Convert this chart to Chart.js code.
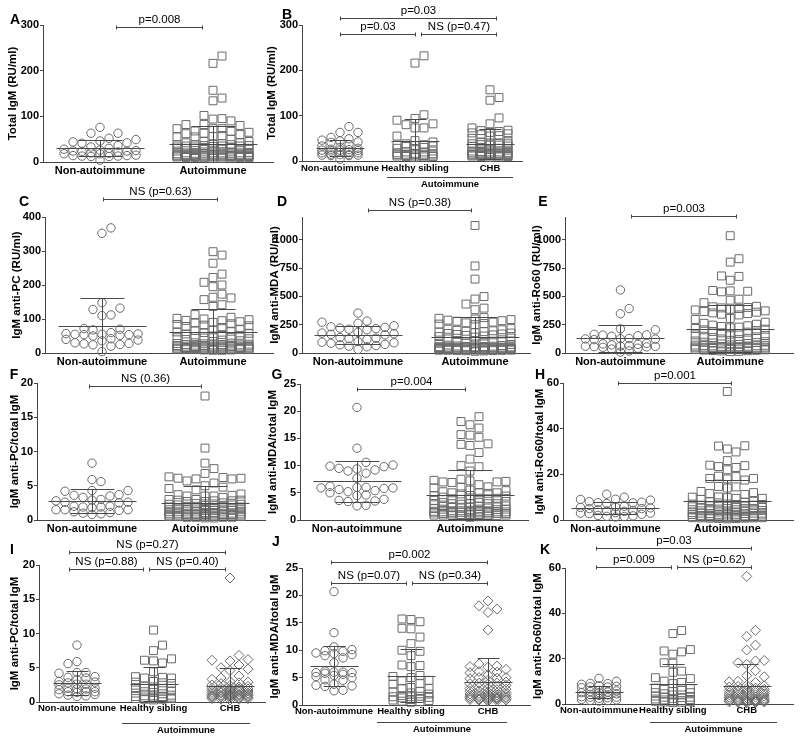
<!DOCTYPE html>
<html>
<head>
<meta charset="utf-8">
<script src="https://cdn.jsdelivr.net/npm/chart.js@4.4.1/dist/chart.umd.min.js"></script>
<style>
  html, body { margin: 0; padding: 0; background: #fff; }
  #wrap { position: relative; width: 800px; height: 741px; overflow: hidden; }
  #wrap canvas { position: absolute; left: 0; top: 0; }
</style>
</head>
<body>
<div id="wrap"></div>
<script>
// ---- categories / tick labels ----
const catsTwo = ["Non-autoimmune", "Autoimmune"];
const catsThree = ["Non-autoimmune", "Healthy sibling", "CHB"];
const autoLabel = "Autoimmune";

const ticksTotal = [0, 100, 200, 300];
const ticksPc = [0, 100, 200, 300, 400];
const ticksMda = [0, 250, 500, 750, 1000];
const ticksRo = [0, 250, 500, 750, 1000];
const ticksPcRatio = [0, 5, 10, 15, 20];
const ticksMdaRatio = [0, 5, 10, 15, 20, 25];
const ticksRoRatio = [0, 20, 40, 60];

// ---- p values ----
const pA = ["p=0.008"];
const pB = ["p=0.03", "p=0.03", "NS (p=0.47)"];
const pC = ["NS (p=0.63)"];
const pD = ["NS (p=0.38)"];
const pE = ["p=0.003"];
const pF = ["NS (0.36)"];
const pG = ["p=0.004"];
const pH = ["p=0.001"];
const pI = ["NS (p=0.27)", "NS (p=0.88)", "NS (p=0.40)"];
const pJ = ["p=0.002", "NS (p=0.07)", "NS (p=0.34)"];
const pK = ["p=0.03", "p=0.009", "NS (p=0.62)"];

// ---- values ----
// total IgM (RU/ml)
const totalNon = [76, 63, 63, 52, 49, 46, 44, 42, 41, 36, 33, 30, 28, 26, 25, 24, 24, 23, 22, 20, 19, 18, 18, 15, 14, 14, 13, 13, 12, 12, 4];
const totalSib = [232, 216, 102, 94, 90, 82, 80, 73, 73, 55, 45, 42, 38, 36, 35, 34, 33, 32, 30, 28, 25, 22, 20, 20, 18, 17, 16, 15, 15, 14, 14, 13, 12, 12, 11, 11, 10, 10, 9, 8];
const totalChb = [157, 140, 134, 95, 82, 73, 68, 67, 65, 63, 62, 60, 58, 56, 55, 50, 45, 42, 40, 40, 38, 38, 36, 35, 35, 33, 32, 30, 28, 26, 24, 22, 21, 20, 20, 19, 18, 18, 17, 17, 16, 16, 15, 15, 15, 14, 14, 14, 13, 13, 13, 12, 12, 12, 11, 11, 10, 10, 9, 8];

// IgM anti-PC (RU/ml)
const pcNon = [368, 352, 148, 132, 128, 112, 110, 72, 70, 68, 60, 57, 56, 55, 55, 54, 54, 52, 50, 42, 40, 38, 36, 30, 28, 27, 25, 24, 20, 4];
const pcAuto = [298, 288, 264, 232, 222, 208, 200, 195, 173, 164, 162, 157, 142, 137, 113,
  105, 102, 100, 98, 96, 95, 92, 90, 88, 86, 84, 82, 80, 78, 75,
  70, 68, 66, 64, 62, 60, 58, 56, 54, 52,
  50, 48, 46, 45, 44, 42, 40, 38, 36, 34,
  30, 29, 28, 27, 26, 25, 25, 24, 24, 23, 23, 22, 22, 21, 21, 20, 20, 20, 19, 19,
  18, 18, 18, 17, 17, 16, 16, 16, 15, 15, 15, 14, 14, 14, 13, 13, 13, 12, 12, 12,
  11, 11, 11, 10, 10, 10, 9, 9, 8, 8];

// IgM anti-MDA (RU/ml)
const mdaNon = [352, 282, 272, 262, 240, 232, 226, 220, 215, 210, 205, 182, 176, 170, 165, 160, 136, 130, 126, 120, 100, 95, 90, 86, 76, 72, 66, 60, 55, 32];
const mdaAuto = [1125, 768, 652, 498, 476, 432, 396, 382,
  312, 306, 300, 295, 290, 285, 280, 272, 266, 260, 255, 250,
  215, 210, 205, 200, 196, 192, 188, 184, 180, 176, 172, 168, 164, 160, 155, 150, 145, 140,
  132, 124, 116, 110, 104, 98, 92, 86, 80, 75, 70, 66, 62,
  60, 58, 57, 56, 55, 54, 53, 52, 51, 50, 50, 49, 48, 48, 47, 46, 45, 45, 44, 43,
  42, 41, 40, 40, 39, 38, 37, 36, 35, 35, 34, 33, 32, 31, 30, 30, 29, 28, 27, 26,
  25, 25, 24, 23, 22, 21, 20, 18, 15];

// IgM anti-Ro60 (RU/ml)
const roNon = [556, 392, 346, 213, 205, 165, 160, 158, 152, 148, 128, 126, 124, 122, 118, 85, 80, 76, 72, 66, 62, 60, 58, 56, 54, 50, 42, 35, 18, 8];
const roAuto = [1035, 832, 802, 680, 676, 642, 552, 548, 545, 540, 475, 466, 444,
  412, 408, 402, 398, 392, 386, 380, 372, 366, 360, 354, 348, 342, 336,
  305, 296, 272, 262, 254, 246, 240, 234, 228, 222, 216, 210, 204, 198,
  190, 184, 178, 172, 166, 160, 154, 148, 142, 136, 130, 124, 118, 112, 106, 100,
  96, 92, 88, 84, 80, 76, 72, 70, 68, 66, 64, 62, 60, 58, 56, 55, 54, 52, 51, 50,
  49, 48, 47, 46, 45, 44, 43, 42, 41, 40, 38, 36, 34, 32, 30, 28, 26, 24, 22, 20,
  18, 15, 12];

// IgM anti-PC / total IgM
const pcRatioNon = [8.3, 5.9, 5.6, 4.3, 4.3, 4.2, 3.7, 3.6, 3.5, 3.3, 3.0, 2.9, 2.8, 2.6, 2.6, 2.5, 2.0, 2.0, 1.9, 1.9, 1.8, 1.5, 1.5, 1.5, 1.4, 1.2, 1.1, 1.0, 0.9, 0.8];
const pcRatioSib = [10.5, 8.3, 7.5, 6.3, 6.1, 6.0, 5.7, 4.4, 3.7, 3.6, 3.5, 3.5, 3.0, 2.9, 2.8, 2.7, 2.3, 2.2, 2.1, 2.0, 1.6, 1.5, 1.4, 1.3, 1.2, 1.0, 0.9, 0.9, 0.8, 0.8, 0.7, 0.7, 0.6, 0.6, 0.5, 0.5, 0.5, 0.4, 0.4, 0.3];
const pcRatioChb = [18.1, 6.8, 6.2, 6.1, 6.0, 5.4, 5.0, 4.8, 4.6, 3.8, 3.5, 3.3, 3.0, 2.9, 2.8, 2.7, 2.5, 2.4, 2.3, 2.2, 2.1, 2.0, 2.0, 1.9, 1.9, 1.8, 1.8, 1.7, 1.7, 1.6, 1.6, 1.5, 1.5, 1.4, 1.4, 1.3, 1.3, 1.2, 1.2, 1.1, 1.1, 1.0, 1.0, 1.0, 0.9, 0.9, 0.9, 0.8, 0.8, 0.8, 0.7, 0.7, 0.7, 0.6, 0.6, 0.5, 0.5, 0.4, 0.4, 0.3];

// IgM anti-MDA / total IgM
const mdaRatioNon = [20.7, 13.2, 10.6, 10.1, 9.9, 9.8, 9.5, 9.4, 9.2, 9.0, 8.6, 7.7, 6.2, 6.0, 6.0, 5.9, 5.9, 5.8, 5.6, 5.4, 5.2, 5.0, 4.6, 4.5, 3.8, 3.6, 3.5, 3.4, 2.7, 2.6];
const mdaRatioSib = [15.7, 15.6, 15.2, 14.0, 13.9, 12.4, 11.2, 10.0, 9.8, 9.0, 7.3, 7.2, 7.0, 5.4, 5.2, 5.0, 4.5, 4.4, 3.9, 3.8, 3.2, 3.0, 3.0, 2.5, 2.4, 2.2, 2.0, 1.7, 1.6, 1.5, 1.5, 1.4, 1.3, 1.2, 1.0, 0.9, 0.8, 0.7, 0.6, 0.5];
const mdaRatioChb = [19.0, 18.1, 17.5, 16.9, 13.7, 7.5, 7.1, 7.0, 6.9, 6.5, 6.1, 6.0, 5.9, 5.5, 5.0, 5.0, 4.9, 4.8, 4.5, 4.2, 4.0, 4.0, 3.9, 3.8, 3.6, 3.4, 3.2, 3.0, 3.0, 2.9, 2.8, 2.6, 2.5, 2.4, 2.3, 2.2, 2.1, 2.0, 2.0, 1.9, 1.8, 1.7, 1.7, 1.6, 1.5, 1.5, 1.4, 1.4, 1.3, 1.3, 1.2, 1.2, 1.1, 1.1, 1.0, 1.0, 0.9, 0.9, 0.8, 0.7];

// IgM anti-Ro60 / total IgM
const roRatioNon = [11.3, 10.0, 9.1, 9.0, 8.7, 8.0, 7.8, 7.6, 7.5, 7.2, 6.0, 5.8, 5.5, 5.3, 5.0, 5.0, 4.5, 4.2, 4.0, 3.8, 3.2, 3.0, 3.0, 2.8, 2.5, 2.0, 1.8, 1.6, 1.5, 1.3];
const roRatioSib = [32.4, 31.1, 24.0, 23.4, 23.0, 22.0, 18.2, 18.0, 14.5, 14.0, 11.6, 11.2, 10.1, 9.5, 9.0, 7.0, 6.8, 6.5, 6.1, 5.5, 5.0, 5.0, 4.5, 4.0, 4.0, 3.5, 3.0, 3.0, 2.8, 2.5, 2.2, 2.0, 1.8, 1.5, 1.3, 1.2, 1.0, 0.9, 0.8, 0.6];
const roRatioChb = [56.3, 32.5, 29.8, 26.0, 23.8, 19.2, 19.0, 18.2, 17.5, 14.7, 12.5, 12.0, 10.0, 9.8, 9.5, 8.2, 8.0, 7.8, 7.5, 7.0, 6.8, 6.5, 6.2, 6.0, 6.0, 5.8, 5.5, 5.2, 5.0, 5.0, 4.8, 4.5, 4.2, 4.0, 4.0, 3.8, 3.5, 3.2, 3.0, 3.0, 2.8, 2.5, 2.4, 2.2, 2.0, 2.0, 1.8, 1.7, 1.5, 1.5, 1.4, 1.3, 1.2, 1.1, 1.0, 1.0, 0.9, 0.8, 0.7, 0.5];

// ---- styling ----
const FONT = "'Liberation Sans', Arial, Helvetica, sans-serif";
const axisColor = "#444";
const pointColor = "#6a6a6a";
const statColor = "#4a4a4a";
const radius = { circle: 4.2, rect: 5.6, rectRot: 5 };

// panel layout in page pixels (plot box, category centres, annotations)
const panels = [
  { letter: "A", lx: 15, ly: 20, title: "Total IgM (RU/ml)", tx: 13,
    groups: [totalNon, totalSib.concat(totalChb)], shapes: ["circle", "rect"], cats: catsTwo,
    left: 43, right: 273, top: 25, bottom: 162, c1: 100, cN: 213, yMax: 300, ticks: ticksTotal,
    brackets: [[116, 203, 27, pA[0]]], auto: null, labPad: 2 },
  { letter: "B", lx: 287, ly: 15, title: "Total IgM (RU/ml)", tx: 272,
    groups: [totalNon, totalSib, totalChb], shapes: ["circle", "rect", "rect"], cats: catsThree,
    left: 302, right: 522, top: 25, bottom: 161, c1: 340, cN: 490, yMax: 300, ticks: ticksTotal,
    brackets: [[340, 497, 18, pB[0]], [340, 416, 34, pB[1]], [421, 497, 34, pB[2]]],
    auto: [387, 513, 177], labPad: 2 },
  { letter: "C", lx: 24, ly: 202, title: "IgM anti-PC (RU/ml)", tx: 17,
    groups: [pcNon, pcAuto], shapes: ["circle", "rect"], cats: catsTwo,
    left: 45, right: 273, top: 217, bottom: 353, c1: 102, cN: 213, yMax: 400, ticks: ticksPc,
    brackets: [[103, 218, 199, pC[0]]], auto: null, labPad: 2 },
  { letter: "D", lx: 282, ly: 202, title: "IgM anti-MDA (RU/ml)", tx: 275,
    groups: [mdaNon, mdaAuto], shapes: ["circle", "rect"], cats: catsTwo,
    left: 302, right: 530, top: 217, bottom: 353, c1: 358, cN: 475, yMax: 1200, ticks: ticksMda,
    brackets: [[368, 472, 210, pD[0]]], auto: null, labPad: 2 },
  { letter: "E", lx: 543, ly: 202, title: "IgM anti-Ro60 (RU/ml)", tx: 537,
    groups: [roNon, roAuto], shapes: ["circle", "rect"], cats: catsTwo,
    left: 565, right: 800, top: 217, bottom: 353, c1: 622, cN: 735, yMax: 1200, ticks: ticksRo,
    brackets: [[631, 737, 216, pE[0]]], auto: null, labPad: 2 },
  { letter: "F", lx: 14, ly: 375, title: "IgM anti-PC/total IgM", tx: 15,
    groups: [pcRatioNon, pcRatioSib.concat(pcRatioChb)], shapes: ["circle", "rect"], cats: catsTwo,
    left: 37, right: 265, top: 383, bottom: 520, c1: 92, cN: 205, yMax: 20, ticks: ticksPcRatio,
    brackets: [[89, 202, 386, pF[0]]], auto: null, labPad: 2 },
  { letter: "G", lx: 277, ly: 375, title: "IgM anti-MDA/total IgM", tx: 273,
    groups: [mdaRatioNon, mdaRatioSib.concat(mdaRatioChb)], shapes: ["circle", "rect"], cats: catsTwo,
    left: 300, right: 528, top: 384, bottom: 520, c1: 357, cN: 470, yMax: 25, ticks: ticksMdaRatio,
    brackets: [[357, 466, 389, pG[0]]], auto: null, labPad: 2 },
  { letter: "H", lx: 540, ly: 375, title: "IgM anti-Ro60/total IgM", tx: 540,
    groups: [roRatioNon, roRatioSib.concat(roRatioChb)], shapes: ["circle", "rect"], cats: catsTwo,
    left: 563, right: 800, top: 383, bottom: 520, c1: 617, cN: 732, yMax: 60, ticks: ticksRoRatio,
    brackets: [[618, 732, 383, pH[0]]], auto: null, labPad: 2 },
  { letter: "I", lx: 12, ly: 550, title: "IgM anti-PC/total IgM", tx: 15,
    groups: [pcRatioNon, pcRatioSib, pcRatioChb], shapes: ["circle", "rect", "rectRot"], cats: catsThree,
    left: 39, right: 265, top: 565, bottom: 702, c1: 77, cN: 230, yMax: 20, ticks: ticksPcRatio,
    brackets: [[69, 226, 552, pI[0]], [69, 144, 569, pI[1]], [149, 226, 569, pI[2]]],
    auto: [122, 250, 723], labPad: 1 },
  { letter: "J", lx: 276, ly: 542, title: "IgM anti-MDA/total IgM", tx: 275,
    groups: [mdaRatioNon, mdaRatioSib, mdaRatioChb], shapes: ["circle", "rect", "rectRot"], cats: catsThree,
    left: 302, right: 530, top: 568, bottom: 705, c1: 334, cN: 488, yMax: 25, ticks: ticksMdaRatio,
    brackets: [[331, 488, 562, pJ[0]], [331, 407, 583, pJ[1]], [412, 488, 583, pJ[2]]],
    auto: [377, 507, 722], labPad: 1 },
  { letter: "K", lx: 545, ly: 550, title: "IgM anti-Ro60/total IgM", tx: 538,
    groups: [roRatioNon, roRatioSib, roRatioChb], shapes: ["circle", "rect", "rectRot"], cats: catsThree,
    left: 565, right: 800, top: 568, bottom: 704, c1: 600, cN: 752, yMax: 60, ticks: ticksRoRatio,
    brackets: [[596, 752, 548, pK[0]], [596, 672, 567, pK[1]], [677, 752, 567, pK[2]]],
    auto: [650, 777, 722], labPad: 1 },
];

function mean(a) { return a.reduce((s, v) => s + v, 0) / a.length; }
function stdev(a) {
  const m = mean(a);
  return Math.sqrt(a.reduce((s, v) => s + (v - m) * (v - m), 0) / (a.length - 1));
}

// scatter dot plot layout: place each point in the nearest free horizontal slot
function swarm(values, pxPerVal, unitPx, diam, maxHalf) {
  const order = values.map((v, i) => i).sort((a, b) => values[a] - values[b]);
  const slots = [0];
  for (let k = 1; k * diam <= maxHalf + 0.01; k++) slots.push(k * diam, -k * diam);
  const placed = [];
  const xs = new Array(values.length);
  for (const i of order) {
    const py = values[i] * pxPerVal;
    let best = 0, bestGap = -1;
    for (const sx of slots) {
      let gap = Infinity;
      for (const p of placed) {
        const d = Math.hypot(p[0] - sx, p[1] - py);
        if (d < gap) gap = d;
      }
      if (gap >= diam) { best = sx; break; }
      if (gap > bestGap) { bestGap = gap; best = sx; }
    }
    placed.push([best, py]);
    xs[i] = best / unitPx;
  }
  return xs;
}

function line(ctx, x1, y1, x2, y2) {
  ctx.beginPath();
  ctx.moveTo(x1, y1);
  ctx.lineTo(x2, y2);
  ctx.stroke();
}

function decor(p) {
  const n = p.cats.length;
  return {
    id: "decor" + p.letter,
    afterDatasetsDraw(chart) {
      const ctx = chart.ctx, xs = chart.scales.x, ys = chart.scales.y;
      const meanHalf = n === 2 ? 44 : 24, capHalf = n === 2 ? 22 : 11;
      ctx.save();
      ctx.strokeStyle = statColor;
      ctx.lineWidth = 1;
      p.groups.forEach((vals, g) => {
        const m = mean(vals), sd = stdev(vals);
        const cx = Math.round(xs.getPixelForValue(g + 1)) + 0.5;
        const yM = Math.round(ys.getPixelForValue(m)) + 0.5;
        const yHi = Math.round(ys.getPixelForValue(m + sd)) + 0.5;
        const yLo = ys.getPixelForValue(Math.max(m - sd, 0));
        line(ctx, cx - meanHalf, yM, cx + meanHalf, yM);
        line(ctx, cx, yLo, cx, yHi);
        line(ctx, cx - capHalf, yHi, cx + capHalf, yHi);
        if (m - sd > 0) {
          const yl = Math.round(yLo) + 0.5;
          line(ctx, cx - capHalf, yl, cx + capHalf, yl);
        }
      });
      ctx.restore();
    },
    afterDraw(chart) {
      const ctx = chart.ctx;
      ctx.save();
      ctx.strokeStyle = axisColor;
      ctx.lineWidth = 1;
      ctx.fillStyle = "#000";
      ctx.textAlign = "center";
      ctx.textBaseline = "bottom";
      ctx.font = "11.5px " + FONT;
      p.brackets.forEach(([x1, x2, y, txt]) => {
        const yy = y + 0.5;
        line(ctx, x1, yy, x2, yy);
        line(ctx, x1 + 0.5, yy - 2, x1 + 0.5, yy + 2);
        line(ctx, x2 - 0.5, yy - 2, x2 - 0.5, yy + 2);
        ctx.fillText(txt, (x1 + x2) / 2, y - 1);
      });
      if (p.auto) {
        const [x1, x2, y] = p.auto;
        line(ctx, x1, y + 0.5, x2, y + 0.5);
        ctx.textBaseline = "top";
        ctx.font = "bold 9.5px " + FONT;
        ctx.fillText(autoLabel, (x1 + x2) / 2, y + 3);
      }
      ctx.font = "bold 14px " + FONT;
      ctx.textBaseline = "middle";
      ctx.fillText(p.letter, p.lx, p.ly);
      ctx.restore();
    },
  };
}

function makePanel(p) {
  const wrap = document.getElementById("wrap");
  const canvas = document.createElement("canvas");
  canvas.width = 800;
  canvas.height = 741;
  wrap.appendChild(canvas);

  const n = p.cats.length;
  const unitPx = (p.cN - p.c1) / (n - 1);
  const pxPerVal = (p.bottom - p.top) / p.yMax;
  const maxHalf = n === 2 ? 36 : 18;
  const xMin = 1 - (p.c1 - p.left) / unitPx;
  const xMax = n + (p.right - p.cN) / unitPx;
  const titleSize = 11.5;
  const boxLeft = p.tx - (titleSize * 1.2) / 2;
  const xAxisH = 20;

  const datasets = p.groups.map((vals, g) => {
    const offs = swarm(vals, pxPerVal, unitPx, 9, maxHalf);
    return {
      label: p.cats[g],
      data: vals.map((v, i) => ({ x: g + 1 + offs[i], y: v })),
      pointStyle: p.shapes[g],
      pointRadius: radius[p.shapes[g]],
      pointBorderColor: pointColor,
      pointBackgroundColor: "rgba(255,255,255,0)",
      pointBorderWidth: 1,
      showLine: false,
      clip: false,
    };
  });

  new Chart(canvas, {
    type: "scatter",
    data: { datasets },
    options: {
      responsive: false,
      animation: false,
      events: [],
      layout: {
        padding: { left: boxLeft, top: p.top, right: 800 - p.right, bottom: 741 - p.bottom - xAxisH },
      },
      plugins: { legend: { display: false }, tooltip: { enabled: false } },
      scales: {
        x: {
          type: "linear",
          min: xMin,
          max: xMax,
          afterBuildTicks: (s) => { s.ticks = p.cats.map((c, i) => ({ value: i + 1 })); },
          afterFit: (s) => { s.height = xAxisH; },
          grid: { display: false, drawTicks: false },
          border: { display: true, color: axisColor, width: 1 },
          ticks: {
            autoSkip: false,
            maxRotation: 0,
            padding: p.labPad,
            color: "#000",
            font: { family: FONT, size: n === 2 ? 11 : 9.5, weight: "bold" },
            callback: (v) => p.cats[Math.round(v) - 1],
          },
        },
        y: {
          min: 0,
          max: p.yMax,
          afterBuildTicks: (s) => { s.ticks = p.ticks.map((v) => ({ value: v })); },
          afterFit: (s) => { s.width = p.left - boxLeft; },
          grid: { drawOnChartArea: false, drawTicks: true, tickLength: 3, color: axisColor },
          border: { display: true, color: axisColor, width: 1 },
          ticks: {
            padding: 1,
            color: "#000",
            font: { family: FONT, size: 11, weight: "bold" },
            callback: (v) => String(v),
          },
          title: {
            display: true,
            text: p.title,
            color: "#000",
            padding: 0,
            font: { family: FONT, size: titleSize, weight: "bold", lineHeight: 1.2 },
          },
        },
      },
    },
    plugins: [decor(p)],
  });
}

panels.forEach(makePanel);
</script>
</body>
</html>
